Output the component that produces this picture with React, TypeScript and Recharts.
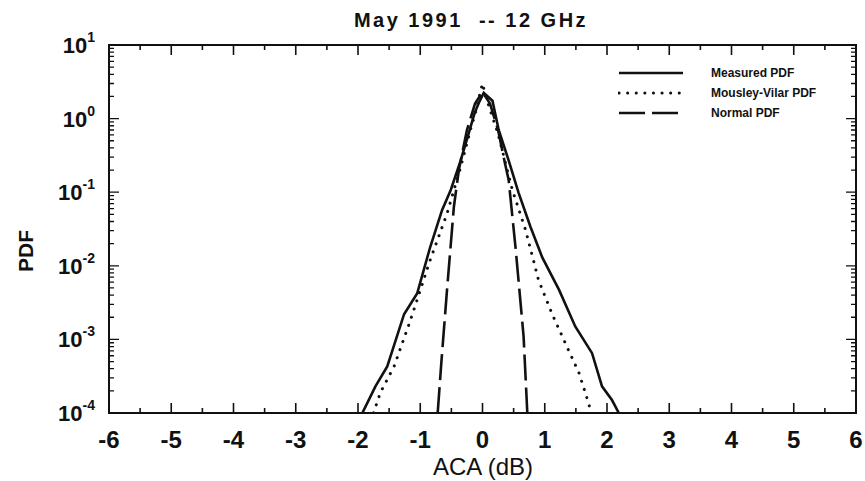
import { LineChart, Line, XAxis, YAxis, Legend, ReferenceArea } from "recharts";

// ACA (dB) / PDF pairs
const measuredAca = [-1.93, -1.72, -1.53, -1.26, -1.05, -0.84, -0.65, -0.51, -0.35, -0.19, -0.13, -0.06, 0.02, 0.16, 0.26, 0.42, 0.58, 0.77, 0.96, 1.23, 1.49, 1.76, 1.92, 2.08, 2.19];
const measuredPdf = [1e-4, 2.3e-4, 4.3e-4, 2.2e-3, 4.2e-3, 0.018, 0.057, 0.107, 0.27, 0.78, 1.17, 1.63, 2.23, 1.75, 0.7, 0.27, 0.098, 0.034, 0.013, 4.7e-3, 1.5e-3, 6.5e-4, 2.3e-4, 1.5e-4, 1e-4];

const mousleyAca = [-1.75, -1.64, -1.42, -1.16, -0.84, -0.57, -0.35, -0.19, -0.09, -0.04, 0, 0.04, 0.1, 0.25, 0.48, 0.69, 0.9, 1.12, 1.33, 1.55, 1.65, 1.75];
const mousleyPdf = [1e-4, 1.9e-4, 4.3e-4, 1.8e-3, 0.012, 0.051, 0.22, 0.72, 1.4, 2.2, 3.0, 2.2, 1.5, 0.62, 0.107, 0.031, 6.4e-3, 2.2e-3, 8.9e-4, 3.5e-4, 1.9e-4, 1e-4];

const normalAca = [-0.72, -0.66, -0.57, -0.46, -0.38, -0.25, -0.12, 0, 0.12, 0.25, 0.36, 0.42, 0.53, 0.66, 0.72];
const normalPdf = [1e-4, 5e-4, 4.7e-3, 0.063, 0.2, 0.7, 1.6, 2.3, 1.6, 0.7, 0.25, 0.147, 0.018, 1.1e-3, 1e-4];

const xTicks = [-6, -5.5, -5, -4.5, -4, -3.5, -3, -2.5, -2, -1.5, -1, -0.5, 0, 0.5, 1, 1.5, 2, 2.5, 3, 3.5, 4, 4.5, 5, 5.5, 6];
const yDecades = [1e-4, 1e-3, 1e-2, 1e-1, 1, 10];
const yMinorSteps = [2, 3, 4, 5, 6, 7, 8, 9];

const seriesNames = ["Measured PDF", "Mousley-Vilar PDF", "Normal PDF"];

const toRows = (xs: number[], ys: number[]) => xs.map((x, i) => ({ x, pdf: ys[i] }));
const measuredData = toRows(measuredAca, measuredPdf);
const mousleyData = toRows(mousleyAca, mousleyPdf);
const normalData = toRows(normalAca, normalPdf);

const yTicks = [
  ...yDecades,
  ...yDecades.slice(0, -1).flatMap((d) => yMinorSteps.map((m) => m * d)),
].sort((a, b) => a - b);

// plot box
const W = 865;
const H = 481;
const LEFT = 109;
const TOP = 45;
const PLOT_W = 747;
const PLOT_H = 368;

const INK = "#111";

const lineStyles = [
  { strokeWidth: 2.6 },
  { strokeWidth: 3, strokeDasharray: "0.1 8.5", strokeLinecap: "round" as const },
  { strokeWidth: 2.6, strokeDasharray: "26 7" },
];

const XTick = (props: any) => {
  const { x, y, payload } = props;
  const v = payload.value as number;
  if (!Number.isInteger(v)) return <g />;
  return (
    <text x={x} y={y + 35} textAnchor="middle" fontSize={24} fontWeight="bold" fill={INK}>
      {String(v)}
    </text>
  );
};

const YTick = (props: any) => {
  const { x, y, payload } = props;
  const v = payload.value as number;
  if (!yDecades.includes(v)) return <g />;
  const exp = Math.round(Math.log10(v));
  return (
    <text x={x - 14} y={y + 8} textAnchor="end" fontSize={22} fontWeight="bold" fill={INK}>
      10
      <tspan fontSize={14} dy={-11}>
        {String(exp)}
      </tspan>
    </text>
  );
};

// inward tick stubs on all four sides, same mapping as the axes above
const px = (v: number) => LEFT + ((v + 6) / 12) * PLOT_W;
const py = (v: number) => TOP + ((1 - Math.log10(v)) / 5) * PLOT_H;

const TickOverlay = () => {
  const bottom = TOP + PLOT_H;
  const right = LEFT + PLOT_W;
  const xd = xTicks
    .map((v) => {
      const len = Number.isInteger(v) ? 10 : 5;
      const x = px(v);
      return `M${x},${bottom}V${bottom - len}M${x},${TOP}V${TOP + len}`;
    })
    .join("");
  const yd = yTicks
    .map((v) => {
      const len = yDecades.includes(v) ? 10 : 5;
      const y = py(v);
      return `M${LEFT},${y}H${LEFT + len}M${right},${y}H${right - len}`;
    })
    .join("");
  return (
    <svg width={W} height={H} style={{ position: "absolute", left: 0, top: 0, pointerEvents: "none" }}>
      <path d={xd} stroke={INK} strokeWidth={1.6} fill="none" />
      <path d={yd} stroke={INK} strokeWidth={1.3} fill="none" />
    </svg>
  );
};

const LegendBox = () => (
  <div style={{ width: 230 }}>
    {seriesNames.map((name, i) => (
      <div key={name} style={{ display: "flex", alignItems: "center", height: 20 }}>
        <svg width={66} height={10} style={{ display: "block" }}>
          <path d="M1,5H65" stroke={INK} fill="none" {...lineStyles[i]} />
        </svg>
        <span style={{ marginLeft: 27, fontSize: 12, fontWeight: "bold", color: INK }}>{name}</span>
      </div>
    ))}
  </div>
);

export default function App() {
  return (
    <div
      style={{
        position: "absolute",
        left: 0,
        top: 0,
        width: W,
        height: H,
        background: "#fff",
        fontFamily: '"Liberation Sans", Arial, Helvetica, sans-serif',
      }}
    >
      <LineChart width={W} height={H} margin={{ top: TOP, right: W - LEFT - PLOT_W, bottom: 0, left: 0 }}>
        <XAxis
          type="number"
          dataKey="x"
          domain={[-6, 6]}
          ticks={xTicks}
          interval={0}
          tick={XTick}
          tickLine={false}
          tickSize={0}
          tickMargin={0}
          axisLine={false}
          height={H - TOP - PLOT_H}
        />
        <YAxis
          type="number"
          scale="log"
          domain={[1e-4, 10]}
          ticks={yTicks}
          interval={0}
          allowDataOverflow
          tick={YTick}
          tickLine={false}
          tickSize={0}
          tickMargin={0}
          axisLine={false}
          width={LEFT}
        />
        <Legend
          layout="vertical"
          align="center"
          verticalAlign="middle"
          content={LegendBox}
          wrapperStyle={{ position: "absolute", left: 618, top: 63, width: 230 }}
        />
        <ReferenceArea x1={-6} x2={6} y1={1e-4} y2={10} fill="none" fillOpacity={0} stroke={INK} strokeWidth={2} ifOverflow="visible" />
        <Line data={measuredData} dataKey="pdf" name={seriesNames[0]} type="linear" stroke={INK} dot={false} isAnimationActive={false} {...lineStyles[0]} />
        <Line data={mousleyData} dataKey="pdf" name={seriesNames[1]} type="linear" stroke={INK} dot={false} isAnimationActive={false} {...lineStyles[1]} />
        <Line data={normalData} dataKey="pdf" name={seriesNames[2]} type="linear" stroke={INK} dot={false} isAnimationActive={false} {...lineStyles[2]} />
        <text x={471} y={27} textAnchor="middle" fontSize={20} fontWeight="bold" letterSpacing={2.5} fill={INK} style={{ whiteSpace: "pre" }}>
          May 1991  -- 12 GHz
        </text>
        <text x={483} y={475} textAnchor="middle" fontSize={24} fill={INK}>
          ACA (dB)
        </text>
        <text transform="translate(33,251) rotate(-90)" textAnchor="middle" fontSize={21} fontWeight="bold" fill={INK}>
          PDF
        </text>
      </LineChart>
      <TickOverlay />
    </div>
  );
}
